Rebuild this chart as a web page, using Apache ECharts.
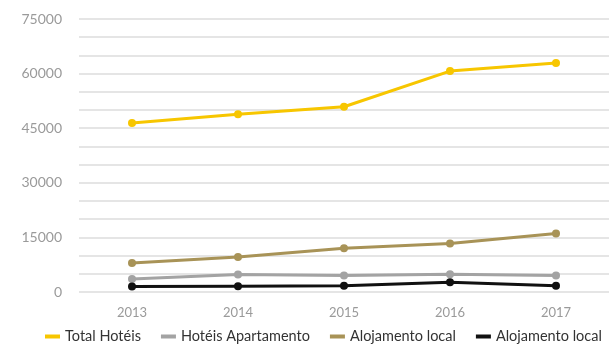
<!DOCTYPE html>
<html>
<head>
<meta charset="utf-8">
<script src="https://cdn.jsdelivr.net/npm/echarts@6/dist/echarts.min.js"></script>
<style>
  html, body { margin: 0; padding: 0; background: #fff; }
  #chart { width: 611px; height: 349px; }
</style>
</head>
<body>
<div id="chart"></div>
<script>
// anos
const years = ['2013', '2014', '2015', '2016', '2017'];
// series
const totalHoteis = [46400, 48800, 50900, 60700, 62900];
const hoteisApartamento = [3600, 4800, 4500, 4900, 4500];
const alojamentoLocal = [8000, 9600, 12000, 13300, 16100];
const alojamentoLocal2 = [1500, 1600, 1700, 2700, 1700];

const names = ['Total Hotéis', 'Hotéis Apartamento', 'Alojamento local', 'Alojamento local '];
const colors = ['#F7C600', '#A3A3A3', '#A89357', '#111111'];
const seriesData = [totalHoteis, hoteisApartamento, alojamentoLocal, alojamentoLocal2];

const myChart = echarts.init(document.getElementById('chart'));
const option = {
  animation: false,
  color: colors,
  grid: { left: 79, right: 2, top: 19, bottom: 57 },
  legend: {
    data: names,
    bottom: 0,
    left: 45,
    width: 566,
    padding: [5, 0, 5, 0],
    icon: 'rect',
    itemWidth: 15,
    itemHeight: 4,
    itemGap: 20,
    textStyle: { fontFamily: 'Lato', fontSize: 14.5, color: '#333' }
  },
  xAxis: {
    type: 'category',
    data: years,
    boundaryGap: true,
    axisLine: { show: false },
    axisTick: { show: false },
    axisLabel: { margin: 14, color: '#9a9a9a', fontFamily: 'Lato', fontSize: 13 }
  },
  yAxis: {
    type: 'value',
    min: 0,
    max: 75000,
    interval: 5000,
    axisLine: { show: false },
    axisTick: { show: false },
    axisLabel: {
      margin: 17,
      color: '#9a9a9a',
      fontFamily: 'Lato',
      fontSize: 14,
      formatter: (v) => (v % 15000 === 0 ? String(v) : '')
    },
    splitLine: { lineStyle: { color: '#dcdcdc', width: 1.5 } }
  },
  series: seriesData.map((d, i) => ({
    name: names[i],
    type: 'line',
    data: d,
    symbol: 'circle',
    symbolSize: 8,
    lineStyle: { width: 3 },
    itemStyle: { color: colors[i] }
  }))
};
myChart.setOption(option);
</script>
</body>
</html>
